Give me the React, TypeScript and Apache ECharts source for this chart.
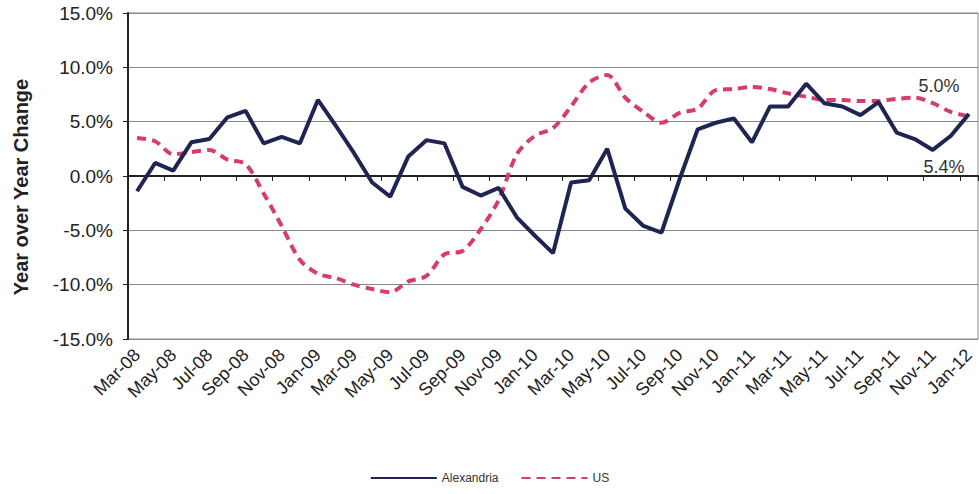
import React, { useEffect, useRef } from "react";
import * as echarts from "echarts";

const months = [
  "Mar-08","Apr-08","May-08","Jun-08","Jul-08","Aug-08","Sep-08","Oct-08","Nov-08","Dec-08",
  "Jan-09","Feb-09","Mar-09","Apr-09","May-09","Jun-09","Jul-09","Aug-09","Sep-09","Oct-09","Nov-09","Dec-09",
  "Jan-10","Feb-10","Mar-10","Apr-10","May-10","Jun-10","Jul-10","Aug-10","Sep-10","Oct-10","Nov-10","Dec-10",
  "Jan-11","Feb-11","Mar-11","Apr-11","May-11","Jun-11","Jul-11","Aug-11","Sep-11","Oct-11","Nov-11","Dec-11",
  "Jan-12",
];

const alexandria = [
  -1.4, 1.2, 0.5, 3.1, 3.4, 5.4, 6.0, 3.0, 3.6, 3.0,
  7.0, 4.6, 2.1, -0.6, -1.9, 1.8, 3.3, 3.0, -1.0, -1.8, -1.1, -3.8,
  -5.5, -7.1, -0.6, -0.4, 2.5, -3.0, -4.6, -5.2, -0.3, 4.3, 4.9, 5.3,
  3.1, 6.4, 6.4, 8.5, 6.7, 6.4, 5.6, 6.8, 4.0, 3.4, 2.4, 3.7,
  5.7,
];

const us = [
  3.5, 3.2, 2.0, 2.2, 2.4, 1.5, 1.1, -1.6, -4.6, -7.7,
  -9.0, -9.4, -10.0, -10.4, -10.7, -9.7, -9.2, -7.2, -6.9, -4.9, -2.2, 2.0,
  3.7, 4.4, 6.4, 8.6, 9.3, 7.2, 5.9, 4.9, 5.8, 6.2, 7.9, 8.0,
  8.2, 8.0, 7.6, 7.3, 7.0, 7.0, 6.9, 6.9, 7.1, 7.2, 6.7, 5.9,
  5.5,
];

const yTitle = "Year over Year Change";

const annotations = [
  { series: "US", text: "5.0%", dx: -30, dy: -30 },
  { series: "Alexandria", text: "5.4%", dx: -25, dy: 53 },
];

const FONT = "'Liberation Sans', Arial, sans-serif";

export default function App() {
  const ref = useRef<HTMLDivElement>(null);

  useEffect(() => {
    if (!ref.current) return;
    const chart = echarts.init(ref.current, null, { renderer: "svg" });
    const last = months.length - 1;
    const markFor = (name: string, values: number[]) => {
      const a = annotations.find((x) => x.series === name)!;
      return {
        silent: true,
        symbol: "circle",
        symbolSize: 1,
        itemStyle: { color: "rgba(0,0,0,0)" },
        label: {
          show: true,
          position: "inside",
          formatter: a.text,
          offset: [a.dx, a.dy],
          fontSize: 18,
          color: "#333",
          fontFamily: FONT,
        },
        data: [{ coord: [months[last], values[last]] }],
      };
    };
    chart.setOption({
      animation: false,
      backgroundColor: "#ffffff",
      textStyle: { fontFamily: FONT },
      grid: {
        left: 128,
        right: 1,
        top: 13,
        bottom: 155,
        show: true,
        borderColor: "#888",
        borderWidth: 1,
      },
      graphic: [
        {
          type: "text",
          x: 21,
          y: 187,
          rotation: Math.PI / 2,
          style: {
            text: yTitle,
            align: "center",
            verticalAlign: "middle",
            fontSize: 20,
            fontWeight: "bold",
            fontFamily: FONT,
            fill: "#222",
          },
        },
      ],
      legend: {
        bottom: 5,
        left: "center",
        itemWidth: 66,
        itemHeight: 10,
        itemGap: 22,
        itemStyle: { opacity: 0 },
        textStyle: { fontSize: 12, color: "#333", fontFamily: FONT },
        data: ["Alexandria", "US"],
      },
      xAxis: {
        type: "category",
        data: months,
        boundaryGap: true,
        axisLine: { lineStyle: { color: "#222", width: 2 } },
        axisTick: { show: true, interval: 1, length: 5, lineStyle: { color: "#222" } },
        axisLabel: {
          interval: 1,
          rotate: 45,
          fontSize: 18,
          color: "#222",
          fontFamily: FONT,
          margin: 13,
        },
        splitLine: { show: false },
      },
      yAxis: {
        type: "value",
        min: -15,
        max: 15,
        interval: 5,
        axisLine: { show: true, lineStyle: { color: "#222", width: 2 } },
        axisTick: { show: true, length: 5, lineStyle: { color: "#222" } },
        axisLabel: {
          formatter: (v: number) => v.toFixed(1) + "%",
          fontSize: 19,
          color: "#222",
          fontFamily: FONT,
          margin: 15,
        },
        splitLine: { show: true, lineStyle: { color: "#888", width: 1 } },
      },
      series: [
        {
          name: "Alexandria",
          type: "line",
          data: alexandria,
          symbol: "none",
          lineStyle: { color: "#1f2452", width: 4 },
          itemStyle: { color: "#1f2452" },
          markPoint: markFor("Alexandria", alexandria),
          z: 3,
        },
        {
          name: "US",
          type: "line",
          data: us,
          symbol: "none",
          smooth: 0.3,
          lineStyle: { color: "#d63c6c", width: 4, type: [9, 6] },
          itemStyle: { color: "#d63c6c" },
          markPoint: markFor("US", us),
          z: 2,
        },
      ],
    });
    return () => chart.dispose();
  }, []);

  return (
    <div
      ref={ref}
      style={{ position: "fixed", left: 0, top: 0, width: 979, height: 494 }}
    />
  );
}
